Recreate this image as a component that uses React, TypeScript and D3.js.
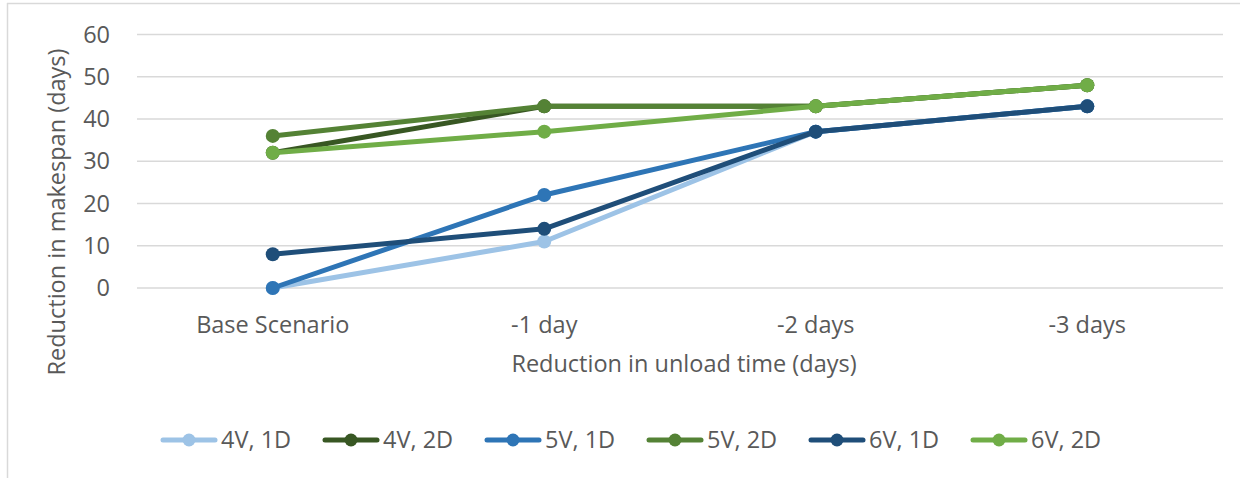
import React from "react";
import * as d3 from "d3";

const categories = ["Base Scenario", "-1 day", "-2 days", "-3 days"];
const seriesNames = ["4V, 1D", "4V, 2D", "5V, 1D", "5V, 2D", "6V, 1D", "6V, 2D"];
const v4_1D = [0, 11, 37, 43];
const v4_2D = [32, 43, 43, 48];
const v5_1D = [0, 22, 37, 43];
const v5_2D = [36, 43, 43, 48];
const v6_1D = [8, 14, 37, 43];
const v6_2D = [32, 37, 43, 48];
const yTicks = [0, 10, 20, 30, 40, 50, 60];
const colors = ["#9DC3E6", "#385723", "#2E75B6", "#548235", "#1F4E79", "#70AD47"];

const seriesValues = [v4_1D, v4_2D, v5_1D, v5_2D, v6_1D, v6_2D];

export default function App() {
  const W = 1249, H = 478;
  const left = 137, right = 1223, top = 34.5, bottom = 288;
  const x = d3.scaleBand<string>().domain(categories).range([left, right]);
  const y = d3.scaleLinear().domain([0, 60]).range([bottom, top]);
  const cx = (c: string) => (x(c) as number) + x.bandwidth() / 2;
  const line = d3.line<number>().x((_, i) => cx(categories[i])).y((d) => y(d));
  const font = "'Open Sans', 'Segoe UI', sans-serif";
  const textColor = "#595959";
  const fs = 23.5;
  const legendStart = 189, legendStep = 162, legendY = 440;

  return (
    <svg width={W} height={H} style={{ position: "absolute", left: 0, top: 0 }} fontFamily={font}>
      <rect x={0} y={0} width={W} height={H} fill="#fff" />
      <line x1={7} y1={3.5} x2={1240} y2={3.5} stroke="#d9d9d9" strokeWidth={1.5} />
      <line x1={7.5} y1={3} x2={7.5} y2={H} stroke="#d9d9d9" strokeWidth={1.5} />
      {yTicks.map((t) => (
        <g key={t}>
          <line x1={left} x2={right} y1={y(t)} y2={y(t)} stroke="#d9d9d9" strokeWidth={1.5} />
          <text x={110} y={y(t)} dy="0.35em" textAnchor="end" fontSize={fs} fill={textColor}>{t}</text>
        </g>
      ))}
      {categories.map((c) => (
        <text key={c} x={cx(c)} y={333} textAnchor="middle" fontSize={fs} fill={textColor}>{c}</text>
      ))}
      <text x={684} y={372} textAnchor="middle" fontSize={fs} fill={textColor}>Reduction in unload time (days)</text>
      <text transform={`translate(65, 212) rotate(-90)`} textAnchor="middle" fontSize={fs} fill={textColor}>Reduction in makespan (days)</text>
      {seriesValues.map((vals, si) => (
        <g key={si}>
          <path d={line(vals) || ""} fill="none" stroke={colors[si]} strokeWidth={5} strokeLinejoin="round" strokeLinecap="round" />
          {vals.map((v, i) => (
            <circle key={i} cx={cx(categories[i])} cy={y(v)} r={7} fill={colors[si]} />
          ))}
        </g>
      ))}
      {seriesNames.map((n, i) => {
        const mx = legendStart + i * legendStep;
        return (
          <g key={n}>
            <line x1={mx - 26} x2={mx + 26} y1={legendY} y2={legendY} stroke={colors[i]} strokeWidth={5} strokeLinecap="round" />
            <circle cx={mx} cy={legendY} r={6.5} fill={colors[i]} />
            <text x={mx + 32} y={legendY} dy="0.35em" fontSize={fs} fill={textColor}>{n}</text>
          </g>
        );
      })}
    </svg>
  );
}
